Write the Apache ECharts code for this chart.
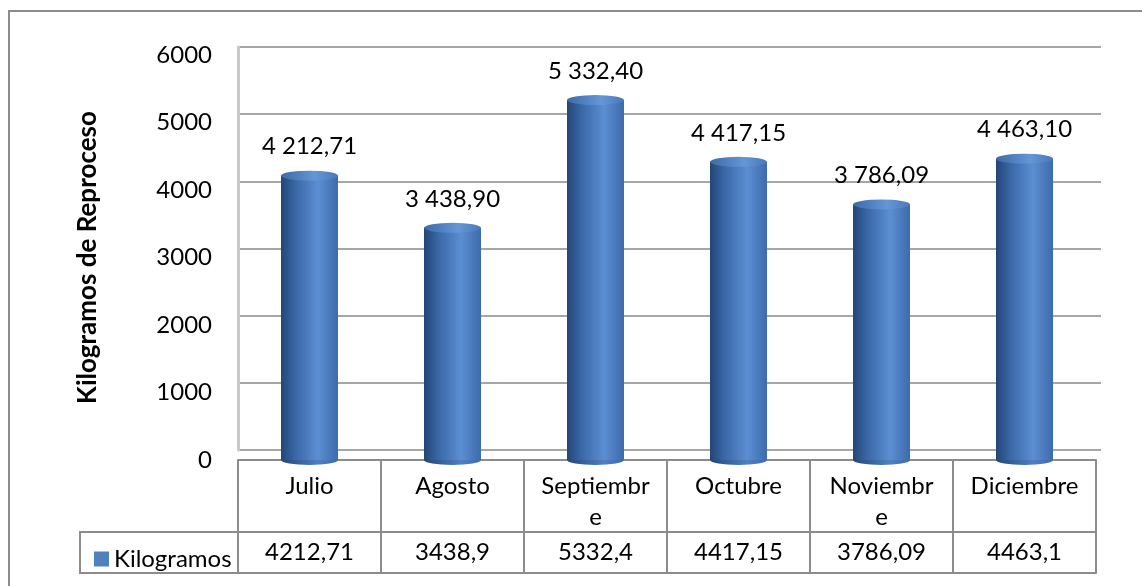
<!DOCTYPE html>
<html>
<head>
<meta charset="utf-8">
<script src="https://cdn.jsdelivr.net/npm/echarts@6/dist/echarts.min.js"></script>
<style>
  html, body { margin: 0; padding: 0; background: #fff; }
  #chart { width: 1142px; height: 586px; }
</style>
</head>
<body>
<div id="chart"></div>
<script>
// datos
var meses = ["Julio", "Agosto", "Septiembre", "Octubre", "Noviembre", "Diciembre"];
var mesesEtiqueta = ["Julio", "Agosto", "Septiembr\ne", "Octubre", "Noviembr\ne", "Diciembre"];
var kilogramos = [4212.71, 3438.9, 5332.4, 4417.15, 3786.09, 4463.1];
var yTicks = [0, 1000, 2000, 3000, 4000, 5000, 6000];

// 4212.71 -> "4 212,71"
function fmtEtiqueta(v) {
  var s = v.toFixed(2).split(".");
  var ent = s[0].replace(/\B(?=(\d{3})+(?!\d))/g, " ");
  return ent + "," + s[1];
}
// 4212.71 -> "4212,71" (tabla de datos)
var filaTabla = kilogramos.map(function (v) { return String(v).replace(".", ","); });

var fuente = "Lato";
var gris = "#8c8c8c";
var fs = 24;

var myChart = echarts.init(document.getElementById("chart"));

myChart.setOption({
  backgroundColor: "#fff",
  textStyle: { fontFamily: fuente },
  legend: {
    data: [{ name: "Kilogramos", itemStyle: { color: "#4f81bd" } }],
    left: 89,
    top: 542,
    itemWidth: 15,
    itemHeight: 15,
    itemGap: 5,
    icon: "rect",
    textStyle: { fontSize: fs, color: "#000", fontFamily: fuente }
  },
  graphic: [
    // borde exterior
    { type: "rect", shape: { x: 9, y: 11, width: 1200, height: 620 }, style: { fill: "none", stroke: gris, lineWidth: 2 }, silent: true },
    // celda de la leyenda
    { type: "rect", shape: { x: 80, y: 532, width: 158, height: 41 }, style: { fill: "none", stroke: gris, lineWidth: 2 }, silent: true }
  ],
  grid: [
    // grid principal (barras + tabla)
    { left: 238, right: 46, top: 55, bottom: 126 },
    // pared del fondo (lineas de division)
    { left: 238, right: 41, top: 47, bottom: 136 }
  ],
  xAxis: [
    {
      type: "category",
      gridIndex: 0,
      data: mesesEtiqueta,
      axisLine: { lineStyle: { color: gris, width: 2 } },
      axisTick: { show: true, length: 113, interval: 0, lineStyle: { color: gris, width: 2 } },
      axisLabel: { interval: 0, margin: 11, fontSize: fs, color: "#000", lineHeight: 31 }
    },
    {
      type: "category",
      gridIndex: 0,
      position: "bottom",
      offset: 72,
      data: filaTabla,
      axisLine: { lineStyle: { color: gris, width: 2 } },
      axisTick: { show: false },
      axisLabel: { interval: 0, margin: 8, fontSize: fs, color: "#000" }
    },
    {
      type: "category",
      gridIndex: 0,
      position: "bottom",
      offset: 113,
      data: meses,
      axisLine: { lineStyle: { color: gris, width: 2 } },
      axisTick: { show: false },
      axisLabel: { show: false }
    },
    {
      type: "category",
      gridIndex: 1,
      data: meses,
      axisLine: { show: false },
      axisTick: { show: false },
      axisLabel: { show: false }
    }
  ],
  yAxis: [
    {
      type: "value",
      gridIndex: 0,
      min: yTicks[0],
      max: yTicks[yTicks.length - 1],
      interval: 1000,
      name: "Kilogramos de Reproceso",
      nameLocation: "middle",
      nameRotate: 90,
      nameGap: 137,
      nameTextStyle: { fontSize: 26, fontWeight: "bold", color: "#000", fontFamily: fuente },
      axisLine: { show: false },
      axisTick: { show: false },
      splitLine: { show: false },
      axisLabel: {
        margin: 26, fontSize: fs, color: "#000", padding: [12, 0, 0, 0],
        formatter: function (v) { return String(v); }
      }
    },
    {
      type: "value",
      gridIndex: 1,
      min: yTicks[0],
      max: yTicks[yTicks.length - 1],
      interval: 1000,
      axisLine: { show: true, lineStyle: { color: "#c8c8c8", width: 3 } },
      axisTick: { show: false },
      axisLabel: { show: false },
      splitLine: { show: true, lineStyle: { color: "#a6a6a6", width: 2 } }
    }
  ],
  series: [
    {
      // cuerpo del cilindro
      name: "Kilogramos",
      type: "bar",
      xAxisIndex: 0,
      yAxisIndex: 0,
      data: kilogramos,
      barWidth: 57,
      z: 3,
      itemStyle: {
        color: {
          type: "linear", x: 0, y: 0, x2: 1, y2: 0,
          colorStops: [
            { offset: 0, color: "#234677" },
            { offset: 0.25, color: "#3a67a6" },
            { offset: 0.65, color: "#5b8ed2" },
            { offset: 1, color: "#3d6bab" }
          ]
        }
      },
      label: {
        show: true,
        position: "top",
        distance: 17,
        fontSize: fs,
        color: "#000",
        formatter: function (p) { return fmtEtiqueta(p.value); }
      }
    },
    {
      // tapa superior
      name: "Kilogramos",
      type: "pictorialBar",
      xAxisIndex: 0,
      yAxisIndex: 0,
      data: kilogramos,
      symbol: "circle",
      symbolSize: [57, 10],
      symbolPosition: "end",
      symbolOffset: [0, "-50%"],
      z: 4,
      itemStyle: {
        color: {
          type: "linear", x: 0, y: 0, x2: 1, y2: 0,
          colorStops: [
            { offset: 0, color: "#3e6aa8" },
            { offset: 0.6, color: "#6596d6" },
            { offset: 1, color: "#4a78b8" }
          ]
        }
      }
    },
    {
      // base
      name: "Kilogramos",
      type: "pictorialBar",
      xAxisIndex: 0,
      yAxisIndex: 0,
      data: kilogramos,
      symbol: "circle",
      symbolSize: [57, 10],
      symbolPosition: "start",
      symbolOffset: [0, "50%"],
      z: 2,
      itemStyle: {
        color: {
          type: "linear", x: 0, y: 0, x2: 1, y2: 0,
          colorStops: [
            { offset: 0, color: "#234677" },
            { offset: 0.65, color: "#4f80c2" },
            { offset: 1, color: "#3d6bab" }
          ]
        }
      }
    }
  ]
});
</script>
</body>
</html>
